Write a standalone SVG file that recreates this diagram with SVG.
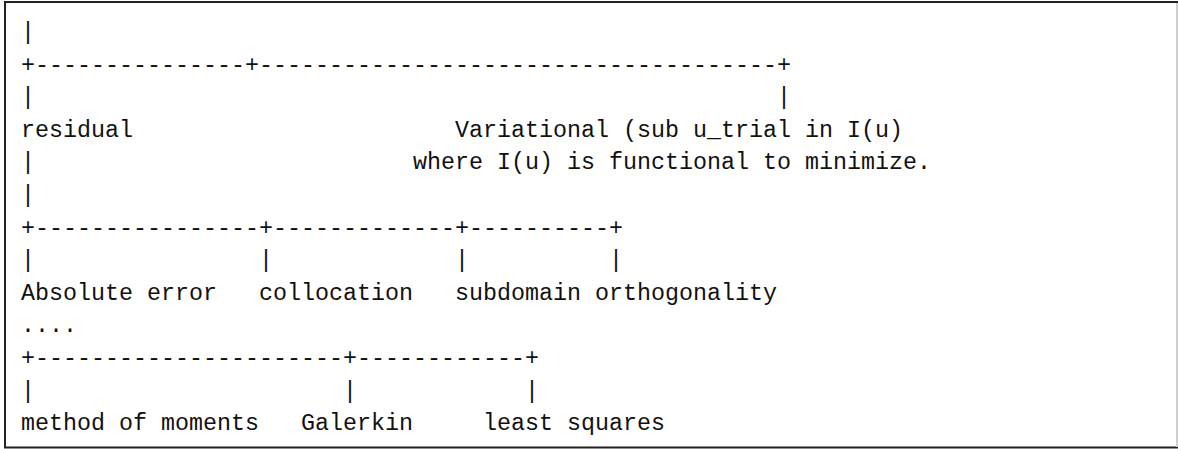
<svg xmlns="http://www.w3.org/2000/svg" width="1178" height="449" viewBox="0 0 1178 449">
<style>
text{font-family:"Liberation Mono","DejaVu Sans Mono",monospace;font-size:23.33px;fill:#111;white-space:pre}
.frame{stroke:#222;stroke-width:2;fill:none}
.frame2{stroke:#cfcfcf;stroke-width:2;fill:none}
</style>
<rect width="1178" height="449" fill="#fff"/>
<g id="frame">
<line class="frame" x1="4" y1="2" x2="1178" y2="2"/>
<line class="frame" x1="5" y1="2" x2="5" y2="448"/>
<line class="frame" x1="4" y1="447.5" x2="1178" y2="447.5"/>
<line class="frame2" x1="1177" y1="3" x2="1177" y2="447"/>
</g>
<g id="connectors">
<text x="21" y="39">|</text>
<text x="21" y="71.6">+---------------+-------------------------------------+</text>
<text x="21" y="104.2">|</text>
<text x="777" y="104.2">|</text>
<text x="21" y="169.4">|</text>
<text x="21" y="202">|</text>
<text x="21" y="234.6">+----------------+-------------+----------+</text>
<text x="21" y="267.2">|</text>
<text x="259" y="267.2">|</text>
<text x="455" y="267.2">|</text>
<text x="609" y="267.2">|</text>
<text x="21" y="332.4">....</text>
<text x="21" y="365">+----------------------+------------+</text>
<text x="21" y="397.6">|</text>
<text x="343" y="397.6">|</text>
<text x="525" y="397.6">|</text>
</g>
<g id="node-residual"><text x="21" y="136.8">residual</text></g>
<g id="node-variational">
<text x="455" y="136.8">Variational (sub u_trial in I(u)</text>
<text x="413" y="169.4">where I(u) is functional to minimize.</text>
</g>
<g id="node-absolute-error"><text x="21" y="299.8">Absolute error</text></g>
<g id="node-collocation"><text x="259" y="299.8">collocation</text></g>
<g id="node-subdomain"><text x="455" y="299.8">subdomain</text></g>
<g id="node-orthogonality"><text x="595" y="299.8">orthogonality</text></g>
<g id="node-method-of-moments"><text x="21" y="430.2">method of moments</text></g>
<g id="node-galerkin"><text x="301" y="430.2">Galerkin</text></g>
<g id="node-least-squares"><text x="483" y="430.2">least squares</text></g>
</svg>
